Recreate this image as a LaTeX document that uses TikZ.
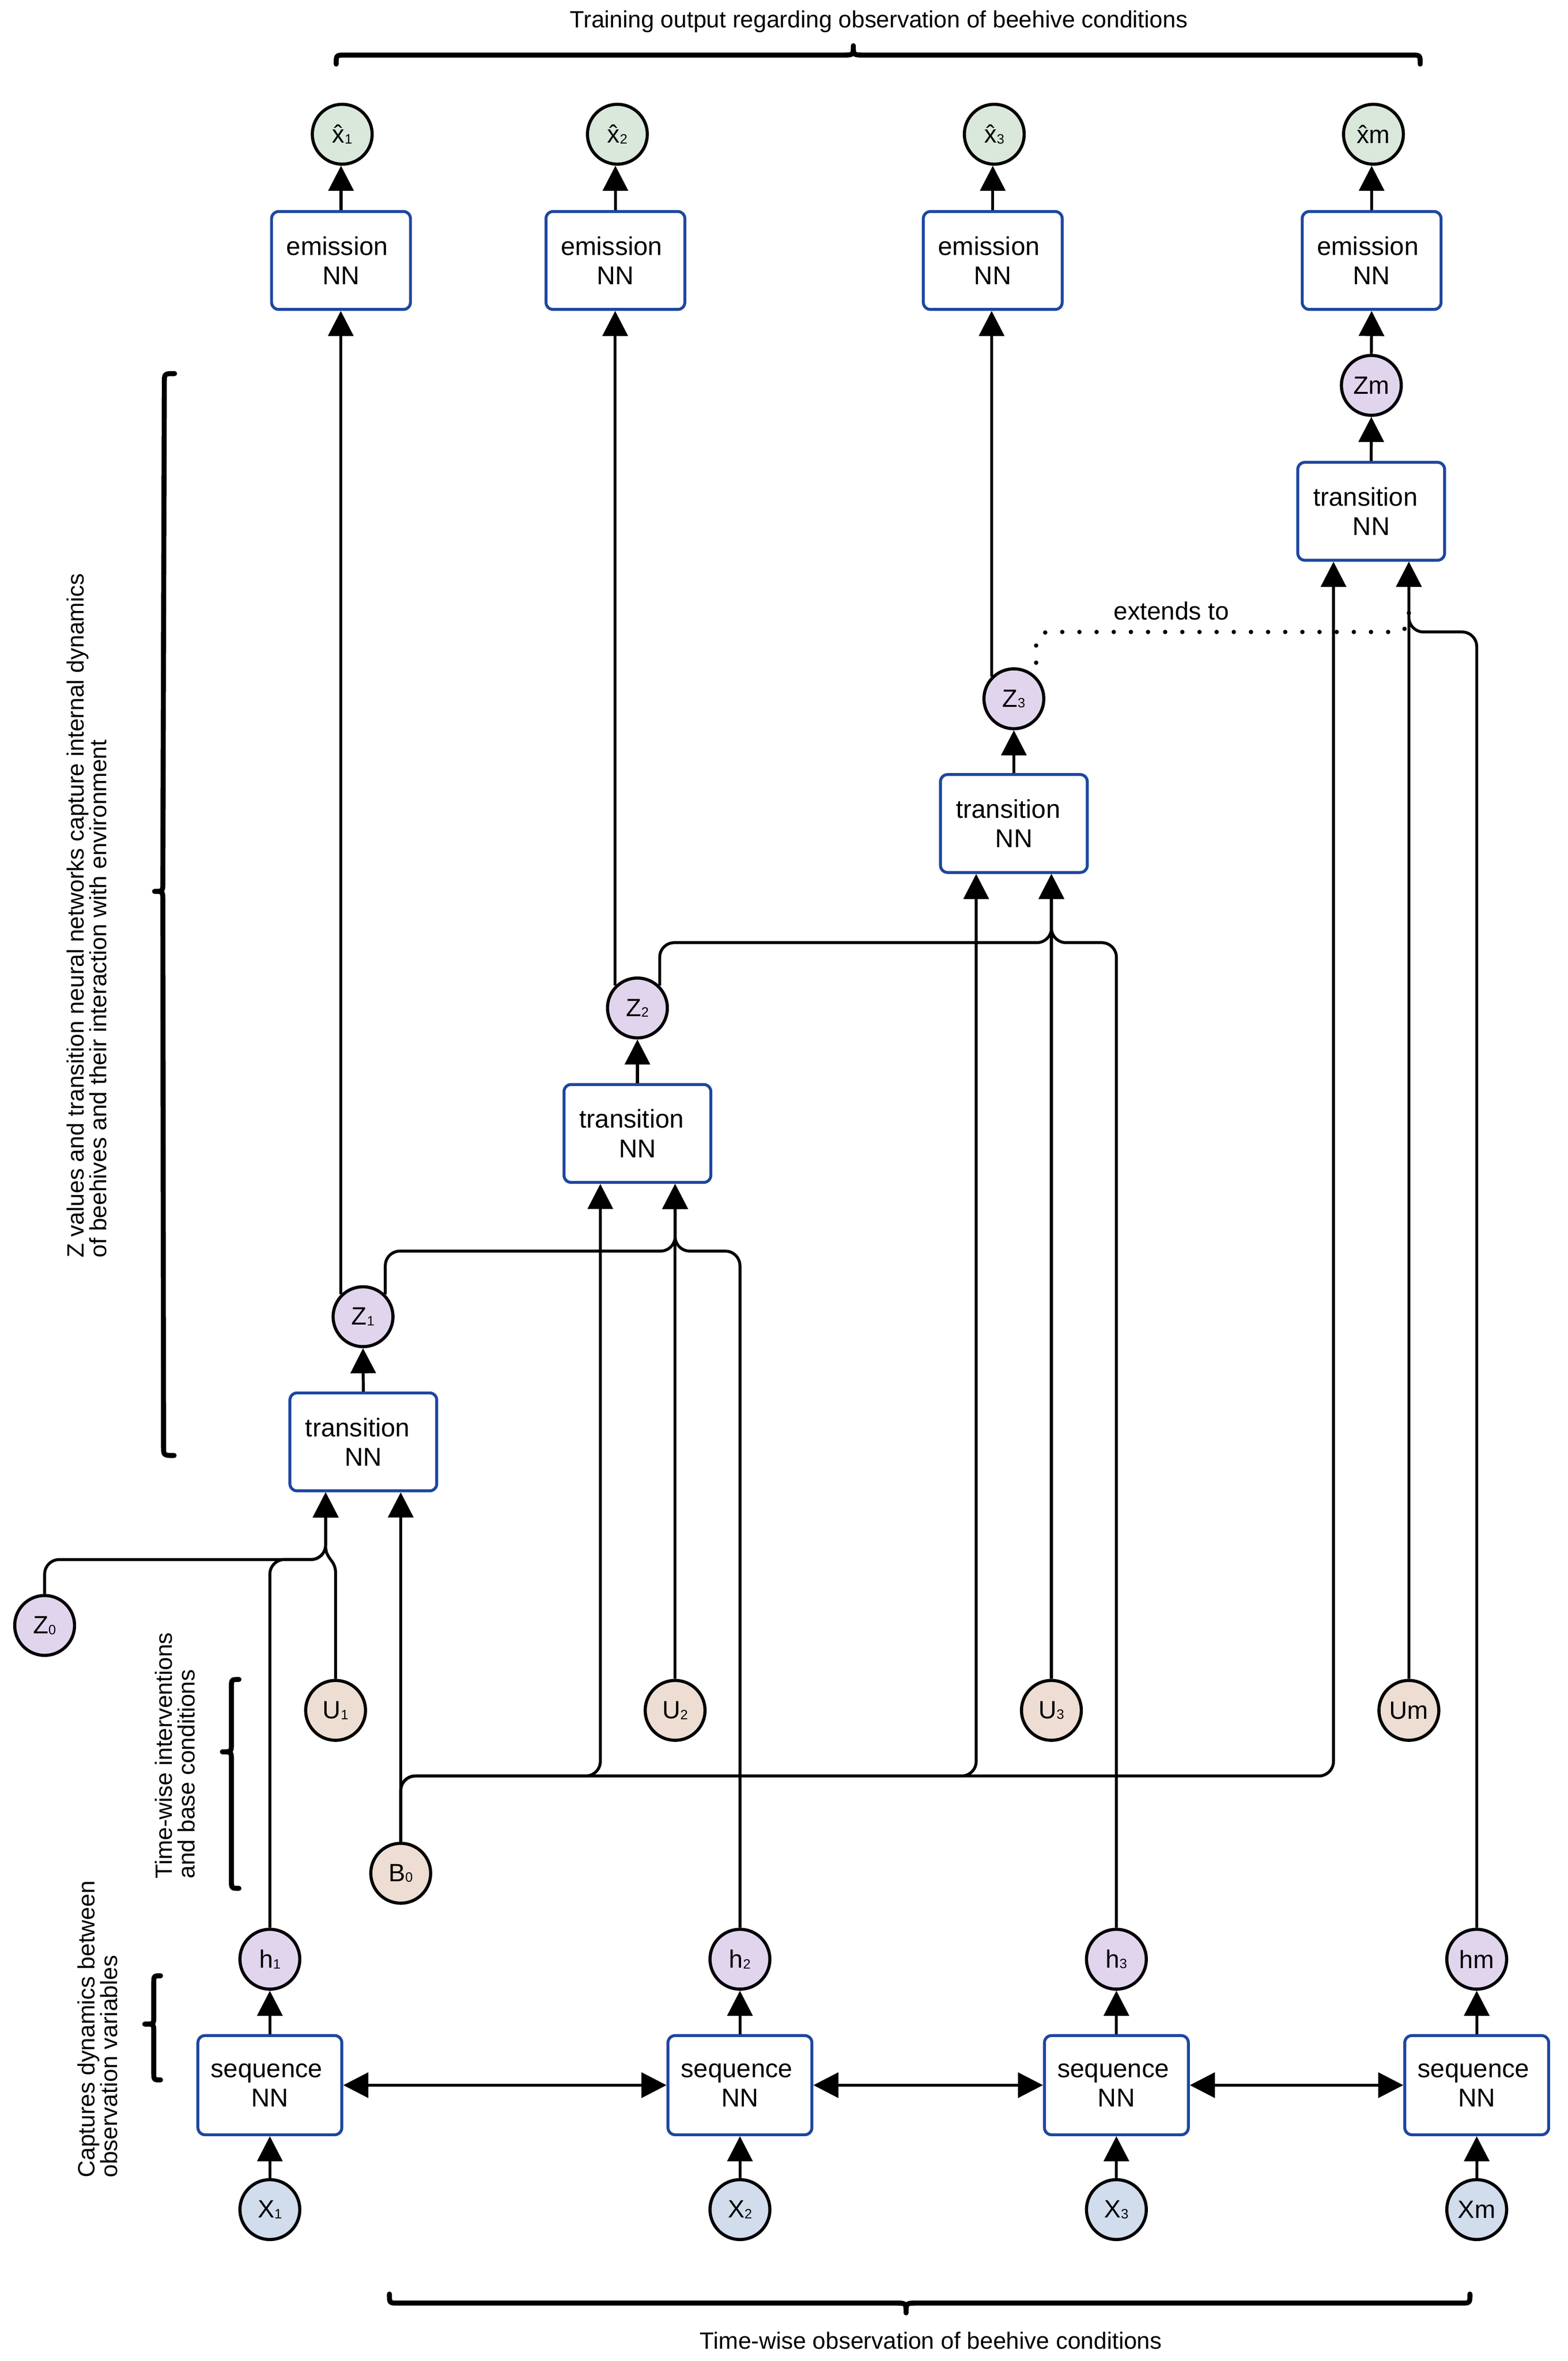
\documentclass[tikz,border=0pt]{standalone}
\usepackage{fontspec}
\setmainfont{Liberation Sans}
\usetikzlibrary{arrows.meta,calc}
\definecolor{boxblue}{HTML}{1D47A0}
\definecolor{cgreen}{HTML}{DAE8DC}
\definecolor{cpurple}{HTML}{E1D5EE}
\definecolor{cpeach}{HTML}{EEDDD2}
\definecolor{cblue}{HTML}{D1DCEC}
\newcommand{\sbs}[1]{\raisebox{-0.03em}{\fontsize{9.2}{10}\selectfont #1}}
\begin{document}
\begin{tikzpicture}[x=0.036048cm, y=-0.036048cm,
  >={Triangle[length=0.6cm,width=0.6cm]},
  conn/.style={line width=0.07cm, draw=black},
  arr/.style={conn, ->},
  nnbox/.style={draw=boxblue, line width=0.07cm, rounded corners=0.17cm, fill=white, align=center, inner sep=0pt, font=\fontsize{17.5}{20}\selectfont},
  embox/.style={nnbox, minimum width=3.32cm, minimum height=2.34cm},
  trbox/.style={nnbox, minimum width=3.51cm, minimum height=2.34cm},
  sqbox/.style={nnbox, minimum width=3.44cm, minimum height=2.37cm},
  var/.style={circle, draw=black, line width=0.075cm, minimum size=1.43cm, inner sep=0pt, font=\fontsize{17}{17}\selectfont},
  outv/.style={var, fill=cgreen},
  latv/.style={var, fill=cpurple},
  inv/.style={var, fill=cpeach},
  obsv/.style={var, fill=cblue},
  brc/.style={line width=0.12cm, line cap=round, line join=round},
  lbl/.style={inner sep=0pt, font=\fontsize{16}{15.6}\selectfont},
  dotline/.style={line width=0.105cm, line cap=round, dash pattern=on 0pt off 0.41cm, dash phase=0.08cm}
]
\fill[white] (0,0) rectangle (1040,1565.4);
\useasboundingbox (0,0) rectangle (1040,1565.4);

% ---------- boxes ----------
\node[embox] (e1) at (226.2,172.7) {emission\kern0.3em\\NN};
\node[embox] (e2) at (408.2,172.7) {emission\kern0.3em\\NN};
\node[embox] (e3) at (658.5,172.7) {emission\kern0.3em\\NN};
\node[embox] (em) at (909.8,172.7) {emission\kern0.3em\\NN};

\node[trbox] (t1) at (241,956) {transition\kern0.45em\\NN};
\node[trbox] (t2) at (422.8,751.5) {transition\kern0.45em\\NN};
\node[trbox] (t3) at (672.5,546) {transition\kern0.45em\\NN};
\node[trbox] (tm) at (909.5,339) {transition\kern0.45em\\NN};

\node[sqbox] (s1) at (179,1382.5) {sequence\kern0.25em\\NN};
\node[sqbox] (s2) at (490.8,1382.5) {sequence\kern0.25em\\NN};
\node[sqbox] (s3) at (740.5,1382.5) {sequence\kern0.25em\\NN};
\node[sqbox] (s4) at (979.5,1382.5) {sequence\kern0.25em\\NN};

% ---------- variables ----------
\node[outv] (xh1) at (227,89) {\^{x}\sbs{1}};
\node[outv] (xh2) at (409.5,89) {\^{x}\sbs{2}};
\node[outv] (xh3) at (659.5,89) {\^{x}\sbs{3}};
\node[outv] (xhm) at (911,89) {\^{x}m};

\node[latv] (z1) at (240.8,873) {Z\sbs{1}};
\node[latv] (z2) at (422.8,668.3) {Z\sbs{2}};
\node[latv] (z3) at (672.5,463.3) {Z\sbs{3}};
\node[latv] (zm) at (909.6,255.5) {Zm};
\node[latv] (z0) at (29.6,1077.7) {Z\sbs{0}};

\node[inv] (u1) at (222.6,1134) {U\sbs{1}};
\node[inv] (u2) at (447.8,1134) {U\sbs{2}};
\node[inv] (u3) at (697.4,1134) {U\sbs{3}};
\node[inv] (um) at (934.5,1134) {Um};
\node[inv] (b0) at (265.8,1242) {B\sbs{0}};

\node[latv] (h1) at (179,1299) {h\sbs{1}};
\node[latv] (h2) at (490.8,1299) {h\sbs{2}};
\node[latv] (h3) at (740.5,1299) {h\sbs{3}};
\node[latv] (hm) at (979.5,1299) {hm};

\node[obsv] (x1) at (179,1465) {X\sbs{1}};
\node[obsv] (x2) at (490.8,1465) {X\sbs{2}};
\node[obsv] (x3) at (740.5,1465) {X\sbs{3}};
\node[obsv] (xm) at (979.5,1465) {Xm};

% ---------- input points and levels ----------
\coordinate (t1a) at ($(t1.south)+(-25,0)$);
\coordinate (t1b) at ($(t1.south)+(24.8,0)$);
\coordinate (t2a) at ($(t2.south)+(-24.6,0)$);
\coordinate (t2b) at ($(t2.south)+(25,0)$);
\coordinate (t3a) at ($(t3.south)+(-25,0)$);
\coordinate (t3b) at ($(t3.south)+(24.9,0)$);
\coordinate (tma) at ($(tm.south)+(-25,0)$);
\coordinate (tmb) at ($(tm.south)+(25,0)$);
\coordinate (y1) at (0,1034);
\coordinate (y1u) at (0,1043);
\coordinate (y1j) at (0,1025);
\coordinate (y2) at (0,829.5);
\coordinate (y3) at (0,625);
\coordinate (y4) at (0,419);
\coordinate (yb) at (0,1177.5);
\coordinate (dend) at (0,402);

% ---------- emission outputs ----------
\draw[arr] (e1.north) -- (e1.north |- xh1.south);
\draw[arr] (e2.north) -- (e2.north |- xh2.south);
\draw[arr] (e3.north) -- (e3.north |- xh3.south);
\draw[arr] (em.north) -- (em.north |- xhm.south);

\draw[arr] (z1.north west) -- (z1.north west |- e1.south);
\draw[arr] (z2.north west) -- (z2.north west |- e2.south);
\draw[arr] (z3.north west) -- (z3.north west |- e3.south);
\draw[arr] (zm.north) -- (em.south);

% ---------- transitions to Z ----------
\draw[arr] (t1.north) -- (z1.south);
\draw[arr] (t2.north) -- (z2.south);
\draw[arr] (t3.north) -- (z3.south);
\draw[arr] (tm.north) -- (zm.south);

% ---------- transition 1 inputs ----------
\draw[arr, rounded corners=0.35cm] (z0.north) |- (t1a |- y1) -- (t1a);
\draw[arr, rounded corners=0.35cm] (h1.north) |- (t1a |- y1) -- (t1a);
\draw[arr] (u1.north) -- (u1.north |- y1u) .. controls +(0,-9) and +(0,9) .. (t1a |- y1j) -- (t1a);
\draw[arr] (b0.north) -- (t1b);

% ---------- transition 2 inputs ----------
\draw[arr, rounded corners=0.35cm] (z1.north east) |- (t2b |- y2) -- (t2b);
\draw[arr, rounded corners=0.35cm] (h2.north) |- (t2b |- y2) -- (t2b);
\draw[arr] (u2.north) -- (t2b);
\draw[arr, rounded corners=0.35cm] (b0.north) |- (t2a |- yb) -- (t2a);

% ---------- transition 3 inputs ----------
\draw[arr, rounded corners=0.35cm] (z2.north east) |- (t3b |- y3) -- (t3b);
\draw[arr, rounded corners=0.35cm] (h3.north) |- (t3b |- y3) -- (t3b);
\draw[arr] (u3.north) -- (t3b);
\draw[arr, rounded corners=0.35cm] (b0.north) |- (t3a |- yb) -- (t3a);

% ---------- transition m inputs ----------
\draw[arr, rounded corners=0.35cm] (hm.north) |- (tmb |- y4) -- (tmb);
\draw[arr] (um.north) -- (tmb);
\draw[arr, rounded corners=0.35cm] (b0.north) |- (tma |- yb) -- (tma);

% ---------- extends to ----------
\draw[dotline, rounded corners=0.3cm] (z3.north east) |- (tmb |- y4) -- (tmb |- dend);
\node[inner sep=0pt, font=\fontsize{17}{17}\selectfont] (ext) at (777,405) {extends to};

% ---------- sequence part ----------
\draw[arr] (x1.north) -- (s1.south);
\draw[arr] (x2.north) -- (s2.south);
\draw[arr] (x3.north) -- (s3.south);
\draw[arr] (xm.north) -- (s4.south);
\draw[arr] (s1.north) -- (h1.south);
\draw[arr] (s2.north) -- (h2.south);
\draw[arr] (s3.north) -- (h3.south);
\draw[arr] (s4.north) -- (hm.south);
\draw[conn, <->] (s1.east) -- (s2.west);
\draw[conn, <->] (s2.east) -- (s3.west);
\draw[conn, <->] (s3.east) -- (s4.west);

% ---------- braces ----------
\draw[brc] (223,42.5) .. controls (223,36.5) .. (229,36.5) -- (559,36.5) .. controls (566,36.5) .. (566,30.3) .. controls (566,36.5) .. (573,36.5) -- (936,36.5) .. controls (942,36.5) .. (942,42.5);
\draw[brc] (258.3,1521) .. controls (258.3,1527) .. (264,1527) -- (594,1527) .. controls (601,1527) .. (601,1533.5) .. controls (601,1527) .. (608,1527) -- (969,1527) .. controls (975,1527) .. (975,1521);
\draw[brc] (115.8,247.7) .. controls (109,247.7) .. (109,254) -- (108,585) .. controls (108,591) .. (102.5,591) .. controls (108,591) .. (108,597) -- (108.5,959) .. controls (108.5,965) .. (115.5,965);
\draw[brc] (158.5,1113.5) .. controls (153.5,1113.5) .. (153.5,1119) -- (153.5,1156) .. controls (153.5,1161.5) .. (147.5,1161.5) .. controls (153.5,1161.5) .. (153.5,1167) -- (153.5,1246.5) .. controls (153.5,1252) .. (158.5,1252);
\draw[brc] (106.5,1310) .. controls (102,1310) .. (102,1315) -- (102,1337) .. controls (102,1342) .. (96,1342) .. controls (102,1342) .. (102,1347) -- (102,1374) .. controls (102,1379) .. (106.5,1379);

% ---------- labels ----------
\node[lbl, anchor=base] (toplbl) at (583,18.4) {Training output regarding observation of beehive conditions};
\node[lbl, anchor=base] (botlbl) at (617.5,1557.5) {Time-wise observation of beehive conditions};
\node[lbl, rotate=90, anchor=west, align=left] (zlbl) at (57.5,834) {Z values and transition neural networks capture internal dynamics\\of beehives and their interaction with environment};
\node[lbl, rotate=90, anchor=west, align=left] (ulbl) at (116,1245.8) {Time-wise interventions\\and base conditions};
\node[lbl, rotate=90, anchor=west, align=left] (clbl) at (64.7,1444) {Captures dynamics between\\observation variables};
\end{tikzpicture}
\end{document}
